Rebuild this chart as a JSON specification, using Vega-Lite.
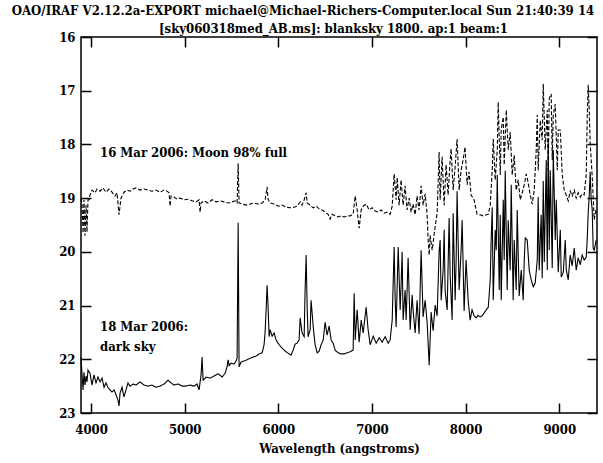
{
  "$schema": "https://vega.github.io/schema/vega-lite/v6.json",
  "width": 516,
  "height": 376,
  "autosize": "none",
  "padding": {"left": 81, "top": 37, "right": 6, "bottom": 50},
  "background": "white",
  "config": {
    "view": {"stroke": "black", "strokeWidth": 1.5},
    "font": "DejaVu Serif Condensed",
    "axis": {
      "labelFont": "DejaVu Serif Condensed",
      "labelFontSize": 13,
      "labelFontWeight": "bold",
      "labelColor": "black",
      "tickColor": "black",
      "tickWidth": 1.5,
      "titleFont": "DejaVu Serif Condensed",
      "titleFontSize": 13,
      "titleFontWeight": "bold",
      "titleColor": "black",
      "grid": false,
      "domain": false,
      "labelFlush": false
    }
  },
  "title": {
    "text": "OAO/IRAF V2.12.2a-EXPORT michael@Michael-Richers-Computer.local Sun 21:40:39 14",
    "anchor": "middle",
    "frame": "group",
    "dx": -36,
    "offset": 4,
    "font": "DejaVu Serif Condensed",
    "fontSize": 13.1,
    "fontWeight": "bold",
    "color": "black"
  },
  "datasets": {
    "spectra": [
      {"sky":"moon","wl":3893,"mag":19.00},{"sky":"moon","wl":3904,"mag":19.13},{"sky":"moon","wl":3915,"mag":19.65},{"sky":"moon","wl":3925,"mag":19.03},{"sky":"moon","wl":3936,"mag":19.70},{"sky":"moon","wl":3947,"mag":19.13},{"sky":"moon","wl":3957,"mag":19.63},{"sky":"moon","wl":3968,"mag":19.03},{"sky":"moon","wl":3979,"mag":19.03},{"sky":"moon","wl":3989,"mag":18.94},
      {"sky":"moon","wl":4011,"mag":18.85},{"sky":"moon","wl":4043,"mag":18.90},{"sky":"moon","wl":4064,"mag":18.83},{"sky":"moon","wl":4096,"mag":18.87},{"sky":"moon","wl":4128,"mag":18.81},{"sky":"moon","wl":4160,"mag":18.89},{"sky":"moon","wl":4192,"mag":18.83},{"sky":"moon","wl":4224,"mag":18.89},{"sky":"moon","wl":4256,"mag":18.96},{"sky":"moon","wl":4278,"mag":18.90},
      {"sky":"moon","wl":4299,"mag":19.31},{"sky":"moon","wl":4320,"mag":19.00},{"sky":"moon","wl":4352,"mag":18.89},{"sky":"moon","wl":4385,"mag":18.85},{"sky":"moon","wl":4417,"mag":18.87},{"sky":"moon","wl":4449,"mag":18.83},{"sky":"moon","wl":4481,"mag":18.81},{"sky":"moon","wl":4524,"mag":18.85},{"sky":"moon","wl":4566,"mag":18.83},{"sky":"moon","wl":4609,"mag":18.85},
      {"sky":"moon","wl":4651,"mag":18.87},{"sky":"moon","wl":4694,"mag":18.85},{"sky":"moon","wl":4737,"mag":18.89},{"sky":"moon","wl":4780,"mag":18.85},{"sky":"moon","wl":4812,"mag":18.87},{"sky":"moon","wl":4833,"mag":18.90},{"sky":"moon","wl":4844,"mag":19.15},{"sky":"moon","wl":4855,"mag":18.96},{"sky":"moon","wl":4887,"mag":18.98},{"sky":"moon","wl":4919,"mag":19.02},
      {"sky":"moon","wl":4951,"mag":19.00},{"sky":"moon","wl":4994,"mag":19.03},{"sky":"moon","wl":5036,"mag":19.02},{"sky":"moon","wl":5079,"mag":19.05},{"sky":"moon","wl":5122,"mag":19.07},{"sky":"moon","wl":5154,"mag":19.03},{"sky":"moon","wl":5165,"mag":19.26},{"sky":"moon","wl":5175,"mag":19.09},{"sky":"moon","wl":5207,"mag":19.05},{"sky":"moon","wl":5250,"mag":19.09},
      {"sky":"moon","wl":5293,"mag":19.03},{"sky":"moon","wl":5336,"mag":19.07},{"sky":"moon","wl":5378,"mag":19.05},{"sky":"moon","wl":5421,"mag":19.07},{"sky":"moon","wl":5464,"mag":19.09},{"sky":"moon","wl":5507,"mag":19.07},{"sky":"moon","wl":5539,"mag":19.05},{"sky":"moon","wl":5560,"mag":19.09},{"sky":"moon","wl":5571,"mag":18.35},{"sky":"moon","wl":5581,"mag":19.09},
      {"sky":"moon","wl":5613,"mag":19.11},{"sky":"moon","wl":5656,"mag":19.13},{"sky":"moon","wl":5699,"mag":19.11},{"sky":"moon","wl":5742,"mag":19.09},{"sky":"moon","wl":5784,"mag":19.11},{"sky":"moon","wl":5827,"mag":19.09},{"sky":"moon","wl":5859,"mag":19.03},{"sky":"moon","wl":5880,"mag":18.79},{"sky":"moon","wl":5891,"mag":19.02},{"sky":"moon","wl":5912,"mag":19.09},
      {"sky":"moon","wl":5955,"mag":19.11},{"sky":"moon","wl":5998,"mag":19.15},{"sky":"moon","wl":6041,"mag":19.13},{"sky":"moon","wl":6083,"mag":19.17},{"sky":"moon","wl":6126,"mag":19.18},{"sky":"moon","wl":6169,"mag":19.17},{"sky":"moon","wl":6201,"mag":19.15},{"sky":"moon","wl":6233,"mag":19.07},{"sky":"moon","wl":6254,"mag":19.13},{"sky":"moon","wl":6276,"mag":19.03},
      {"sky":"moon","wl":6297,"mag":18.90},{"sky":"moon","wl":6308,"mag":19.09},{"sky":"moon","wl":6340,"mag":19.13},{"sky":"moon","wl":6372,"mag":19.18},{"sky":"moon","wl":6404,"mag":19.15},{"sky":"moon","wl":6436,"mag":19.20},{"sky":"moon","wl":6468,"mag":19.22},{"sky":"moon","wl":6500,"mag":19.26},{"sky":"moon","wl":6532,"mag":19.30},{"sky":"moon","wl":6553,"mag":19.39},
      {"sky":"moon","wl":6575,"mag":19.30},{"sky":"moon","wl":6607,"mag":19.33},{"sky":"moon","wl":6639,"mag":19.35},{"sky":"moon","wl":6671,"mag":19.33},{"sky":"moon","wl":6703,"mag":19.35},{"sky":"moon","wl":6735,"mag":19.33},{"sky":"moon","wl":6767,"mag":19.33},{"sky":"moon","wl":6799,"mag":19.30},{"sky":"moon","wl":6821,"mag":18.96},{"sky":"moon","wl":6842,"mag":19.22},
      {"sky":"moon","wl":6863,"mag":19.56},{"sky":"moon","wl":6885,"mag":19.22},{"sky":"moon","wl":6906,"mag":19.15},{"sky":"moon","wl":6938,"mag":19.11},{"sky":"moon","wl":6970,"mag":19.22},{"sky":"moon","wl":7002,"mag":19.18},{"sky":"moon","wl":7034,"mag":19.24},{"sky":"moon","wl":7066,"mag":19.26},{"sky":"moon","wl":7098,"mag":19.22},{"sky":"moon","wl":7130,"mag":19.28},
      {"sky":"moon","wl":7162,"mag":19.26},{"sky":"moon","wl":7194,"mag":19.30},{"sky":"moon","wl":7216,"mag":19.15},{"sky":"moon","wl":7237,"mag":18.55},{"sky":"moon","wl":7258,"mag":19.03},{"sky":"moon","wl":7269,"mag":18.62},{"sky":"moon","wl":7290,"mag":19.13},{"sky":"moon","wl":7311,"mag":18.66},{"sky":"moon","wl":7333,"mag":19.13},{"sky":"moon","wl":7354,"mag":18.77},
      {"sky":"moon","wl":7375,"mag":19.22},{"sky":"moon","wl":7397,"mag":19.00},{"sky":"moon","wl":7418,"mag":19.26},{"sky":"moon","wl":7439,"mag":19.11},{"sky":"moon","wl":7461,"mag":19.31},{"sky":"moon","wl":7482,"mag":18.96},{"sky":"moon","wl":7503,"mag":19.22},{"sky":"moon","wl":7525,"mag":18.77},{"sky":"moon","wl":7546,"mag":19.13},{"sky":"moon","wl":7568,"mag":18.92},
      {"sky":"moon","wl":7589,"mag":19.30},{"sky":"moon","wl":7600,"mag":19.78},{"sky":"moon","wl":7611,"mag":20.06},{"sky":"moon","wl":7621,"mag":19.69},{"sky":"moon","wl":7643,"mag":19.97},{"sky":"moon","wl":7664,"mag":19.67},{"sky":"moon","wl":7685,"mag":19.41},{"sky":"moon","wl":7696,"mag":19.28},{"sky":"moon","wl":7717,"mag":18.14},{"sky":"moon","wl":7728,"mag":19.03},
      {"sky":"moon","wl":7749,"mag":18.23},{"sky":"moon","wl":7771,"mag":19.13},{"sky":"moon","wl":7792,"mag":18.38},{"sky":"moon","wl":7813,"mag":18.94},{"sky":"moon","wl":7835,"mag":18.29},{"sky":"moon","wl":7845,"mag":18.08},{"sky":"moon","wl":7867,"mag":18.85},{"sky":"moon","wl":7888,"mag":18.42},{"sky":"moon","wl":7909,"mag":17.90},{"sky":"moon","wl":7931,"mag":18.85},
      {"sky":"moon","wl":7952,"mag":18.48},{"sky":"moon","wl":7973,"mag":18.29},{"sky":"moon","wl":7994,"mag":18.05},{"sky":"moon","wl":8016,"mag":18.75},{"sky":"moon","wl":8037,"mag":18.51},{"sky":"moon","wl":8058,"mag":18.94},{"sky":"moon","wl":8090,"mag":19.03},{"sky":"moon","wl":8122,"mag":19.30},{"sky":"moon","wl":8154,"mag":19.31},{"sky":"moon","wl":8186,"mag":19.33},
      {"sky":"moon","wl":8220,"mag":19.31},{"sky":"moon","wl":8242,"mag":19.30},{"sky":"moon","wl":8263,"mag":19.13},{"sky":"moon","wl":8284,"mag":18.48},{"sky":"moon","wl":8295,"mag":17.90},{"sky":"moon","wl":8316,"mag":18.66},{"sky":"moon","wl":8338,"mag":18.10},{"sky":"moon","wl":8348,"mag":17.21},{"sky":"moon","wl":8370,"mag":18.57},{"sky":"moon","wl":8380,"mag":17.73},
      {"sky":"moon","wl":8402,"mag":17.49},{"sky":"moon","wl":8412,"mag":18.38},{"sky":"moon","wl":8434,"mag":17.36},{"sky":"moon","wl":8455,"mag":18.10},{"sky":"moon","wl":8476,"mag":17.77},{"sky":"moon","wl":8498,"mag":18.57},{"sky":"moon","wl":8519,"mag":18.20},{"sky":"moon","wl":8540,"mag":18.85},{"sky":"moon","wl":8562,"mag":18.66},{"sky":"moon","wl":8583,"mag":19.03},
      {"sky":"moon","wl":8605,"mag":18.90},{"sky":"moon","wl":8626,"mag":18.75},{"sky":"moon","wl":8647,"mag":18.55},{"sky":"moon","wl":8669,"mag":18.72},{"sky":"moon","wl":8690,"mag":18.94},{"sky":"moon","wl":8711,"mag":19.11},{"sky":"moon","wl":8733,"mag":18.85},{"sky":"moon","wl":8754,"mag":18.10},{"sky":"moon","wl":8765,"mag":17.45},{"sky":"moon","wl":8775,"mag":18.48},
      {"sky":"moon","wl":8797,"mag":17.55},{"sky":"moon","wl":8818,"mag":17.92},{"sky":"moon","wl":8829,"mag":16.87},{"sky":"moon","wl":8850,"mag":18.10},{"sky":"moon","wl":8872,"mag":17.36},{"sky":"moon","wl":8882,"mag":18.48},{"sky":"moon","wl":8893,"mag":17.15},{"sky":"moon","wl":8914,"mag":17.06},{"sky":"moon","wl":8925,"mag":18.29},{"sky":"moon","wl":8936,"mag":17.45},
      {"sky":"moon","wl":8957,"mag":17.25},{"sky":"moon","wl":8979,"mag":18.48},{"sky":"moon","wl":8989,"mag":17.73},{"sky":"moon","wl":9011,"mag":17.73},{"sky":"moon","wl":9032,"mag":18.57},{"sky":"moon","wl":9053,"mag":18.85},{"sky":"moon","wl":9074,"mag":18.94},{"sky":"moon","wl":9096,"mag":19.05},{"sky":"moon","wl":9117,"mag":18.87},{"sky":"moon","wl":9138,"mag":18.96},
      {"sky":"moon","wl":9160,"mag":18.85},{"sky":"moon","wl":9181,"mag":19.00},{"sky":"moon","wl":9202,"mag":18.90},{"sky":"moon","wl":9224,"mag":18.98},{"sky":"moon","wl":9245,"mag":18.92},{"sky":"moon","wl":9266,"mag":18.94},{"sky":"moon","wl":9288,"mag":18.57},{"sky":"moon","wl":9298,"mag":17.55},{"sky":"moon","wl":9309,"mag":16.89},{"sky":"moon","wl":9320,"mag":17.36},
      {"sky":"moon","wl":9330,"mag":17.97},{"sky":"moon","wl":9352,"mag":18.60},{"sky":"moon","wl":9373,"mag":19.40},{"sky":"moon","wl":9394,"mag":19.20},

      {"sky":"dark","wl":3893,"mag":21.96},{"sky":"dark","wl":3904,"mag":22.29},{"sky":"dark","wl":3915,"mag":22.57},{"sky":"dark","wl":3925,"mag":22.24},{"sky":"dark","wl":3936,"mag":22.48},{"sky":"dark","wl":3947,"mag":22.31},{"sky":"dark","wl":3957,"mag":22.42},{"sky":"dark","wl":3968,"mag":22.20},{"sky":"dark","wl":3989,"mag":22.26},{"sky":"dark","wl":4011,"mag":22.48},
      {"sky":"dark","wl":4032,"mag":22.29},{"sky":"dark","wl":4053,"mag":22.44},{"sky":"dark","wl":4075,"mag":22.33},{"sky":"dark","wl":4096,"mag":22.42},{"sky":"dark","wl":4118,"mag":22.35},{"sky":"dark","wl":4139,"mag":22.52},{"sky":"dark","wl":4160,"mag":22.44},{"sky":"dark","wl":4182,"mag":22.53},{"sky":"dark","wl":4203,"mag":22.57},{"sky":"dark","wl":4224,"mag":22.61},
      {"sky":"dark","wl":4246,"mag":22.57},{"sky":"dark","wl":4267,"mag":22.66},{"sky":"dark","wl":4288,"mag":22.76},{"sky":"dark","wl":4299,"mag":22.87},{"sky":"dark","wl":4310,"mag":22.63},{"sky":"dark","wl":4331,"mag":22.52},{"sky":"dark","wl":4352,"mag":22.70},{"sky":"dark","wl":4374,"mag":22.57},{"sky":"dark","wl":4395,"mag":22.44},{"sky":"dark","wl":4417,"mag":22.50},
      {"sky":"dark","wl":4449,"mag":22.46},{"sky":"dark","wl":4481,"mag":22.48},{"sky":"dark","wl":4524,"mag":22.42},{"sky":"dark","wl":4566,"mag":22.48},{"sky":"dark","wl":4609,"mag":22.50},{"sky":"dark","wl":4651,"mag":22.48},{"sky":"dark","wl":4694,"mag":22.52},{"sky":"dark","wl":4737,"mag":22.50},{"sky":"dark","wl":4780,"mag":22.46},{"sky":"dark","wl":4823,"mag":22.39},
      {"sky":"dark","wl":4855,"mag":22.44},{"sky":"dark","wl":4887,"mag":22.48},{"sky":"dark","wl":4930,"mag":22.46},{"sky":"dark","wl":4972,"mag":22.50},{"sky":"dark","wl":5015,"mag":22.50},{"sky":"dark","wl":5058,"mag":22.48},{"sky":"dark","wl":5100,"mag":22.50},{"sky":"dark","wl":5132,"mag":22.46},{"sky":"dark","wl":5154,"mag":22.57},{"sky":"dark","wl":5175,"mag":22.29},
      {"sky":"dark","wl":5186,"mag":21.96},{"sky":"dark","wl":5197,"mag":22.39},{"sky":"dark","wl":5229,"mag":22.33},{"sky":"dark","wl":5271,"mag":22.35},{"sky":"dark","wl":5314,"mag":22.31},{"sky":"dark","wl":5357,"mag":22.27},{"sky":"dark","wl":5400,"mag":22.33},{"sky":"dark","wl":5432,"mag":22.26},{"sky":"dark","wl":5453,"mag":22.14},{"sky":"dark","wl":5464,"mag":22.01},
      {"sky":"dark","wl":5475,"mag":22.12},{"sky":"dark","wl":5496,"mag":22.07},{"sky":"dark","wl":5528,"mag":22.09},{"sky":"dark","wl":5549,"mag":22.03},{"sky":"dark","wl":5560,"mag":21.98},{"sky":"dark","wl":5571,"mag":19.46},{"sky":"dark","wl":5581,"mag":22.14},{"sky":"dark","wl":5603,"mag":22.05},{"sky":"dark","wl":5635,"mag":22.03},{"sky":"dark","wl":5667,"mag":22.01},
      {"sky":"dark","wl":5699,"mag":21.98},{"sky":"dark","wl":5731,"mag":21.96},{"sky":"dark","wl":5763,"mag":21.94},{"sky":"dark","wl":5795,"mag":21.90},{"sky":"dark","wl":5827,"mag":21.88},{"sky":"dark","wl":5848,"mag":21.73},{"sky":"dark","wl":5859,"mag":21.49},{"sky":"dark","wl":5870,"mag":21.08},{"sky":"dark","wl":5880,"mag":20.62},{"sky":"dark","wl":5891,"mag":21.03},
      {"sky":"dark","wl":5902,"mag":21.58},{"sky":"dark","wl":5912,"mag":21.45},{"sky":"dark","wl":5934,"mag":21.57},{"sky":"dark","wl":5955,"mag":21.51},{"sky":"dark","wl":5976,"mag":21.64},{"sky":"dark","wl":5998,"mag":21.70},{"sky":"dark","wl":6019,"mag":21.75},{"sky":"dark","wl":6051,"mag":21.81},{"sky":"dark","wl":6083,"mag":21.86},{"sky":"dark","wl":6115,"mag":21.90},
      {"sky":"dark","wl":6137,"mag":21.92},{"sky":"dark","wl":6158,"mag":21.83},{"sky":"dark","wl":6179,"mag":21.72},{"sky":"dark","wl":6201,"mag":21.70},{"sky":"dark","wl":6222,"mag":21.64},{"sky":"dark","wl":6233,"mag":21.23},{"sky":"dark","wl":6254,"mag":21.51},{"sky":"dark","wl":6276,"mag":21.58},{"sky":"dark","wl":6286,"mag":20.71},{"sky":"dark","wl":6297,"mag":20.06},
      {"sky":"dark","wl":6308,"mag":21.03},{"sky":"dark","wl":6318,"mag":21.58},{"sky":"dark","wl":6340,"mag":21.45},{"sky":"dark","wl":6350,"mag":20.90},{"sky":"dark","wl":6372,"mag":21.38},{"sky":"dark","wl":6393,"mag":21.73},{"sky":"dark","wl":6415,"mag":21.88},{"sky":"dark","wl":6436,"mag":21.85},{"sky":"dark","wl":6457,"mag":21.73},{"sky":"dark","wl":6479,"mag":21.64},
      {"sky":"dark","wl":6500,"mag":21.31},{"sky":"dark","wl":6521,"mag":21.55},{"sky":"dark","wl":6543,"mag":21.38},{"sky":"dark","wl":6564,"mag":21.64},{"sky":"dark","wl":6585,"mag":21.70},{"sky":"dark","wl":6607,"mag":21.83},{"sky":"dark","wl":6639,"mag":21.88},{"sky":"dark","wl":6671,"mag":21.90},{"sky":"dark","wl":6703,"mag":21.90},{"sky":"dark","wl":6735,"mag":21.88},
      {"sky":"dark","wl":6767,"mag":21.86},{"sky":"dark","wl":6799,"mag":21.83},{"sky":"dark","wl":6810,"mag":20.77},{"sky":"dark","wl":6821,"mag":21.64},{"sky":"dark","wl":6842,"mag":21.08},{"sky":"dark","wl":6863,"mag":21.68},{"sky":"dark","wl":6885,"mag":21.27},{"sky":"dark","wl":6906,"mag":21.51},{"sky":"dark","wl":6938,"mag":21.03},{"sky":"dark","wl":6959,"mag":21.45},
      {"sky":"dark","wl":6981,"mag":21.73},{"sky":"dark","wl":7013,"mag":21.57},{"sky":"dark","wl":7045,"mag":21.70},{"sky":"dark","wl":7077,"mag":21.60},{"sky":"dark","wl":7109,"mag":21.68},{"sky":"dark","wl":7141,"mag":21.58},{"sky":"dark","wl":7173,"mag":21.70},{"sky":"dark","wl":7194,"mag":21.64},{"sky":"dark","wl":7216,"mag":21.27},{"sky":"dark","wl":7237,"mag":19.91},
      {"sky":"dark","wl":7248,"mag":20.90},{"sky":"dark","wl":7258,"mag":21.40},{"sky":"dark","wl":7280,"mag":19.91},{"sky":"dark","wl":7301,"mag":21.08},{"sky":"dark","wl":7311,"mag":20.62},{"sky":"dark","wl":7322,"mag":20.00},{"sky":"dark","wl":7333,"mag":21.27},{"sky":"dark","wl":7354,"mag":20.71},{"sky":"dark","wl":7365,"mag":21.27},{"sky":"dark","wl":7386,"mag":20.11},
      {"sky":"dark","wl":7408,"mag":21.45},{"sky":"dark","wl":7429,"mag":20.80},{"sky":"dark","wl":7439,"mag":21.08},{"sky":"dark","wl":7461,"mag":21.51},{"sky":"dark","wl":7482,"mag":20.90},{"sky":"dark","wl":7503,"mag":21.53},{"sky":"dark","wl":7525,"mag":19.97},{"sky":"dark","wl":7546,"mag":21.21},{"sky":"dark","wl":7568,"mag":20.90},{"sky":"dark","wl":7589,"mag":21.31},
      {"sky":"dark","wl":7611,"mag":22.11},{"sky":"dark","wl":7632,"mag":21.12},{"sky":"dark","wl":7653,"mag":21.47},{"sky":"dark","wl":7675,"mag":20.99},{"sky":"dark","wl":7696,"mag":21.19},{"sky":"dark","wl":7717,"mag":20.00},{"sky":"dark","wl":7728,"mag":19.78},{"sky":"dark","wl":7739,"mag":20.90},{"sky":"dark","wl":7760,"mag":20.34},{"sky":"dark","wl":7771,"mag":19.59},
      {"sky":"dark","wl":7781,"mag":20.71},{"sky":"dark","wl":7803,"mag":21.08},{"sky":"dark","wl":7824,"mag":19.37},{"sky":"dark","wl":7835,"mag":20.43},{"sky":"dark","wl":7856,"mag":21.27},{"sky":"dark","wl":7867,"mag":19.28},{"sky":"dark","wl":7888,"mag":20.90},{"sky":"dark","wl":7899,"mag":20.15},{"sky":"dark","wl":7909,"mag":18.87},{"sky":"dark","wl":7931,"mag":20.71},
      {"sky":"dark","wl":7952,"mag":19.97},{"sky":"dark","wl":7963,"mag":19.41},{"sky":"dark","wl":7984,"mag":21.10},{"sky":"dark","wl":8005,"mag":20.15},{"sky":"dark","wl":8027,"mag":20.90},{"sky":"dark","wl":8048,"mag":21.27},{"sky":"dark","wl":8069,"mag":21.08},{"sky":"dark","wl":8090,"mag":21.19},{"sky":"dark","wl":8112,"mag":21.23},{"sky":"dark","wl":8133,"mag":21.18},
      {"sky":"dark","wl":8154,"mag":21.21},{"sky":"dark","wl":8176,"mag":21.19},{"sky":"dark","wl":8197,"mag":21.14},{"sky":"dark","wl":8220,"mag":21.08},{"sky":"dark","wl":8242,"mag":21.03},{"sky":"dark","wl":8263,"mag":20.52},{"sky":"dark","wl":8273,"mag":19.78},{"sky":"dark","wl":8284,"mag":19.17},{"sky":"dark","wl":8295,"mag":20.90},{"sky":"dark","wl":8316,"mag":19.59},
      {"sky":"dark","wl":8327,"mag":19.97},{"sky":"dark","wl":8338,"mag":18.57},{"sky":"dark","wl":8359,"mag":20.71},{"sky":"dark","wl":8370,"mag":19.31},{"sky":"dark","wl":8380,"mag":20.90},{"sky":"dark","wl":8402,"mag":19.03},{"sky":"dark","wl":8412,"mag":20.15},{"sky":"dark","wl":8423,"mag":18.49},{"sky":"dark","wl":8444,"mag":20.71},{"sky":"dark","wl":8455,"mag":19.41},
      {"sky":"dark","wl":8476,"mag":20.34},{"sky":"dark","wl":8487,"mag":18.75},{"sky":"dark","wl":8508,"mag":20.90},{"sky":"dark","wl":8519,"mag":19.78},{"sky":"dark","wl":8540,"mag":20.71},{"sky":"dark","wl":8551,"mag":19.22},{"sky":"dark","wl":8572,"mag":20.82},{"sky":"dark","wl":8594,"mag":20.34},{"sky":"dark","wl":8615,"mag":20.90},{"sky":"dark","wl":8626,"mag":20.15},
      {"sky":"dark","wl":8637,"mag":19.74},{"sky":"dark","wl":8658,"mag":19.78},{"sky":"dark","wl":8679,"mag":20.34},{"sky":"dark","wl":8700,"mag":20.52},{"sky":"dark","wl":8722,"mag":20.65},{"sky":"dark","wl":8743,"mag":20.58},{"sky":"dark","wl":8765,"mag":20.15},{"sky":"dark","wl":8775,"mag":18.98},{"sky":"dark","wl":8786,"mag":20.34},{"sky":"dark","wl":8807,"mag":19.31},
      {"sky":"dark","wl":8818,"mag":20.49},{"sky":"dark","wl":8829,"mag":18.68},{"sky":"dark","wl":8840,"mag":20.19},{"sky":"dark","wl":8861,"mag":18.29},{"sky":"dark","wl":8872,"mag":20.34},{"sky":"dark","wl":8882,"mag":17.92},{"sky":"dark","wl":8893,"mag":19.97},{"sky":"dark","wl":8904,"mag":18.48},{"sky":"dark","wl":8925,"mag":20.30},{"sky":"dark","wl":8936,"mag":18.10},
      {"sky":"dark","wl":8957,"mag":19.78},{"sky":"dark","wl":8968,"mag":19.03},{"sky":"dark","wl":8989,"mag":20.38},{"sky":"dark","wl":9011,"mag":19.59},{"sky":"dark","wl":9021,"mag":20.47},{"sky":"dark","wl":9043,"mag":20.38},{"sky":"dark","wl":9064,"mag":19.78},{"sky":"dark","wl":9075,"mag":20.34},{"sky":"dark","wl":9096,"mag":20.52},{"sky":"dark","wl":9117,"mag":20.06},
      {"sky":"dark","wl":9138,"mag":20.26},{"sky":"dark","wl":9160,"mag":19.93},{"sky":"dark","wl":9181,"mag":20.34},{"sky":"dark","wl":9202,"mag":20.11},{"sky":"dark","wl":9224,"mag":20.24},{"sky":"dark","wl":9245,"mag":20.06},{"sky":"dark","wl":9266,"mag":20.15},{"sky":"dark","wl":9288,"mag":20.10},{"sky":"dark","wl":9298,"mag":19.78},{"sky":"dark","wl":9309,"mag":19.28},
      {"sky":"dark","wl":9320,"mag":18.96},{"sky":"dark","wl":9330,"mag":18.51},{"sky":"dark","wl":9341,"mag":19.03},{"sky":"dark","wl":9352,"mag":19.22},{"sky":"dark","wl":9362,"mag":19.93},{"sky":"dark","wl":9373,"mag":19.97},{"sky":"dark","wl":9394,"mag":19.78}
    ],
    "notes": [
      {"wl": 4096, "mag": 18.24, "label": "16 Mar 2006: Moon 98% full"},
      {"wl": 4096, "mag": 21.47, "label": "18 Mar 2006:"},
      {"wl": 4096, "mag": 21.84, "label": "dark sky"}
    ]
  },
  "layer": [
    {
      "data": {"name": "spectra"},
      "mark": {"type": "line", "color": "black", "strokeWidth": 1.1},
      "encoding": {
        "x": {
          "field": "wl", "type": "quantitative",
          "scale": {"domain": [3893, 9403], "nice": false, "zero": false},
          "axis": {
            "orient": "bottom", "title": "Wavelength (angstroms)",
            "values": [4000, 5000, 6000, 7000, 8000, 9000], "format": "d",
            "offset": -10, "tickSize": 10, "labelPadding": 10, "titlePadding": 6
          }
        },
        "y": {
          "field": "mag", "type": "quantitative",
          "scale": {"domain": [16, 23], "reverse": true, "nice": false, "zero": false},
          "axis": {
            "orient": "left", "title": null,
            "values": [16, 17, 18, 19, 20, 21, 22, 23], "format": "d",
            "offset": -10, "tickSize": 10, "labelPadding": 6
          }
        },
        "strokeDash": {
          "field": "sky", "type": "nominal",
          "scale": {"domain": ["moon", "dark"], "range": [[4, 2], [1, 0]]},
          "legend": null
        }
      }
    },
    {
      "data": {"name": "notes"},
      "mark": {"type": "text", "align": "left", "baseline": "alphabetic", "font": "DejaVu Serif Condensed", "fontSize": 13, "fontWeight": "bold", "color": "black"},
      "encoding": {
        "x": {
          "field": "wl", "type": "quantitative",
          "scale": {"domain": [3893, 9403], "nice": false, "zero": false},
          "axis": {
            "orient": "top", "labels": false,
            "values": [4000, 5000, 6000, 7000, 8000, 9000],
            "offset": -10, "tickSize": 10,
            "title": "[sky060318med_AB.ms]: blanksky 1800. ap:1 beam:1",
            "titleX": 252, "titleY": -15, "titleAlign": "center", "titleAnchor": null, "titleBaseline": "alphabetic"
          }
        },
        "y": {
          "field": "mag", "type": "quantitative",
          "scale": {"domain": [16, 23], "reverse": true, "nice": false, "zero": false},
          "axis": {
            "orient": "right", "labels": false, "title": null,
            "values": [16, 17, 18, 19, 20, 21, 22, 23],
            "offset": -10, "tickSize": 10
          }
        },
        "text": {"field": "label"}
      }
    }
  ],
  "resolve": {"axis": {"x": "independent", "y": "independent"}}
}
